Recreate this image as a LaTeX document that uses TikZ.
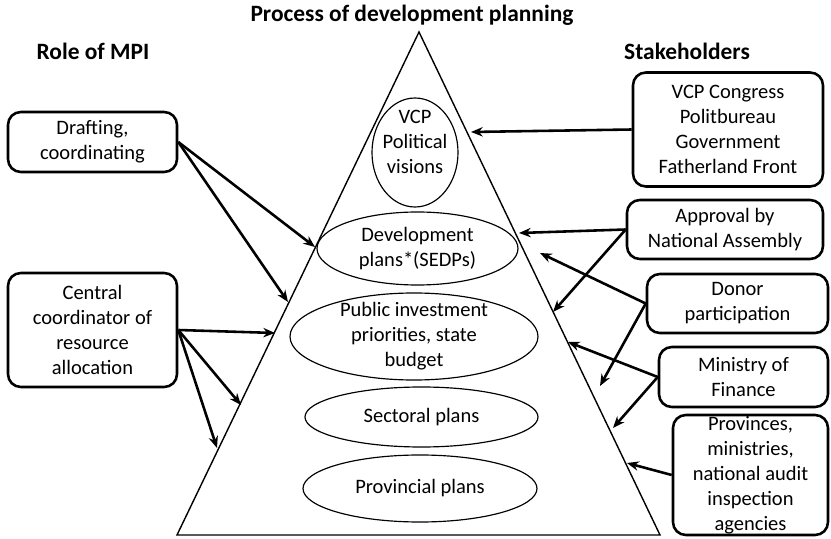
\documentclass[tikz,border=0pt]{standalone}
\usepackage{fontspec}
\setmainfont{Carlito}
\usetikzlibrary{arrows.meta,shapes.geometric}

\begin{document}
\begin{tikzpicture}[x=0.03cm, y=-0.03cm,
    arrow/.style = {line width=2.2pt, -{Stealth[length=10pt,width=8pt]}},
    heading/.style = {font=\bfseries\fontsize{20}{24}\selectfont},
    box/.style = {draw, line width=2.2pt, rounded corners=11pt, align=center, inner sep=0pt,
                  font=\fontsize{17.5}{21.3}\selectfont},
    level/.style = {draw, ellipse, line width=1pt, inner sep=0pt},
    txt/.style = {align=center, font=\fontsize{17.5}{21.3}\selectfont}]
\useasboundingbox (0,0) rectangle (831,539);

% headings
\node[heading] (title) at (412,15) {Process of development planning};
\node[heading] (mpi) at (93,51) {Role of MPI};
\node[heading] (stake) at (687,51) {Stakeholders};

% pyramid
\coordinate (top) at (419,32);
\coordinate (baseL) at (177,535);
\coordinate (baseR) at (660,535);
\draw[line width=1.2pt] (top) -- (baseL) -- (baseR) -- cycle;

% levels
\node[level, minimum width=2.58cm, minimum height=3.27cm] (vcp) at (415,152.5) {};
\node[txt] at ([yshift=0.32cm]vcp.center) {VCP\\Political\\visions};
\node[level, minimum width=6.03cm, minimum height=2.19cm] (sedp) at (417.5,248.5) {};
\node[txt] at (sedp) {Development\\plans*(SEDPs)};
\node[level, minimum width=7.44cm, minimum height=2.61cm] (pip) at (414,336.5) {};
\node[txt] at (pip) {Public investment\\priorities, state\\budget};
\node[level, minimum width=6.99cm, minimum height=1.8cm] (sect) at (421.5,417) {};
\node[txt] at (sect) {Sectoral plans};
\node[level, minimum width=7.02cm, minimum height=2.01cm] (prov) at (420,488.5) {};
\node[txt] at (prov) {Provincial plans};

% role of MPI
\node[box, minimum width=5.07cm, minimum height=1.8cm] (draft) at (92.5,142) {Drafting,\\coordinating};
\node[box, minimum width=5.07cm, minimum height=3.42cm] (central) at (92.5,330) {Central\\coordinator of\\resource\\allocation};

% stakeholders
\node[box, minimum width=5.7cm, minimum height=3.42cm] (party) at (728,129.5) {VCP Congress\\Politbureau\\Government\\Fatherland Front};
\node[box, minimum width=5.88cm, minimum height=1.77cm] (assembly) at (725,229.5) {Approval by\\National Assembly};
\node[box, minimum width=5.43cm, minimum height=1.77cm] (donor) at (737.5,303.5) {Donor\\participation};
\node[box, minimum width=5.07cm, minimum height=1.8cm] (finance) at (743.5,377) {Ministry of\\Finance};
\node[box, minimum width=4.65cm, minimum height=3.6cm] (local) at (750.5,475) {Provinces,\\ministries,\\national audit\\inspection\\agencies};

% arrow ends
\coordinate (l1) at (315,247);
\coordinate (l2) at (288,302);
\coordinate (l3) at (275,333);
\coordinate (l4) at (241,405);
\coordinate (l5) at (217,448);
\coordinate (r1) at (471,132);
\coordinate (r2) at (519,233);
\coordinate (r3) at (553,312);
\coordinate (r4) at (540,253);
\coordinate (r5) at (600,386);
\coordinate (r6) at (568,342);
\coordinate (r7) at (613,428);
\coordinate (r8) at (627,463);

\draw[arrow] (draft.east) -- (l1);
\draw[arrow] (draft.east) -- (l2);
\draw[arrow] (central.east) -- (l3);
\draw[arrow] (central.east) -- (l4);
\draw[arrow] (central.east) -- (l5);

\draw[arrow] (party.west) -- (r1);
\draw[arrow] (assembly.west) -- (r2);
\draw[arrow] (assembly.west) -- (r3);
\draw[arrow] (donor.west) -- (r4);
\draw[arrow] (donor.west) -- (r5);
\draw[arrow] (finance.west) -- (r6);
\draw[arrow] (finance.west) -- (r7);
\draw[arrow] (local.west) -- (r8);
\end{tikzpicture}
\end{document}
